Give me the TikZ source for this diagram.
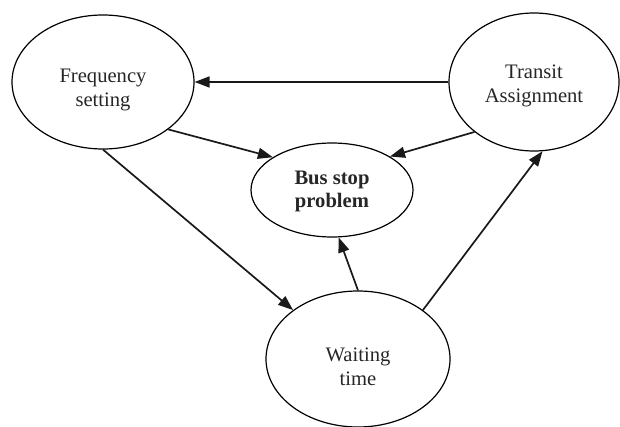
\documentclass[tikz,border=0pt]{standalone}
\usepackage{fontspec}
\setmainfont{Liberation Serif}
\usetikzlibrary{shapes.geometric,arrows.meta}
\begin{document}
\begin{tikzpicture}[x=1pt,y=-1pt,
  oval/.style={draw=black,line width=1.2pt,ellipse,inner sep=0pt},
  txt/.style={align=center,font=\fontsize{20.6}{24}\selectfont,inner sep=0pt,text=black!85},
  conn/.style={draw=black!90,line width=1.7pt,-{Triangle[length=15pt,width=11pt]}}]
\useasboundingbox (0,0) rectangle (620,427);
\node[oval,minimum width=182pt,minimum height=134pt] (freq) at (103,82) {};
\node[oval,minimum width=170pt,minimum height=138pt] (transit) at (534,82) {};
\node[oval,minimum width=162pt,minimum height=94pt] (bus) at (332,190) {};
\node[oval,minimum width=184pt,minimum height=136pt] (wait) at (358,359) {};
\node[txt] (freqtxt) at (103,90) {Frequency\\setting};
\node[txt] (transittxt) at (534,86) {Transit\\Assignment};
\node[txt,font=\fontsize{20.6}{23}\selectfont\bfseries] (bustxt) at (332,191) {Bus stop\\problem};
\node[txt] (waittxt) at (358,367) {Waiting\\time};
\draw[conn] (transit.west) -- (freq.east);
\draw[conn] (freq.-36) -- (bus.151);
\draw[conn] (transit.-140) -- (bus.30);
\draw[conn] (freq.south) -- (wait.143);
\draw[conn] (wait.north) -- (bus.-82);
\draw[conn] (wait.37) -- (transit.-83);
\end{tikzpicture}
\end{document}
